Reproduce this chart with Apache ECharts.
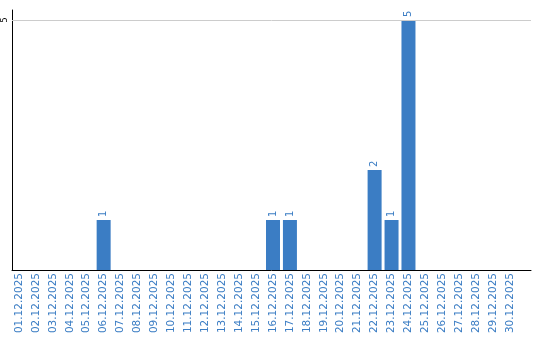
<!DOCTYPE html>
<html><head><meta charset="utf-8">
<script src="https://cdn.jsdelivr.net/npm/echarts@6/dist/echarts.min.js"></script>
<style>html,body{margin:0;padding:0;background:#fff}#c{width:540px;height:340px}</style>
</head><body><div id="c"></div>
<script>
const categories = ['01.12.2025','02.12.2025','03.12.2025','04.12.2025','05.12.2025','06.12.2025','07.12.2025','08.12.2025','09.12.2025','10.12.2025','11.12.2025','12.12.2025','13.12.2025','14.12.2025','15.12.2025','16.12.2025','17.12.2025','18.12.2025','19.12.2025','20.12.2025','21.12.2025','22.12.2025','23.12.2025','24.12.2025','25.12.2025','26.12.2025','27.12.2025','28.12.2025','29.12.2025','30.12.2025'];
const values = [0,0,0,0,0,1,0,0,0,0,0,0,0,0,0,1,1,0,0,0,0,2,1,5,0,0,0,0,0,0];
const yTicks = [5];

const BLUE = '#3b7dc4';
const chart = echarts.init(document.getElementById('c'), null, {renderer: 'canvas'});
const xMin = -7/17, xMax = -7/17 + 521/17;
chart.setOption({
  animation: false,
  grid: {left: 10, right: 9, top: 10, bottom: 70, containLabel: false},
  xAxis: {
    type: 'value', min: xMin, max: xMax,
    axisLine: {show: true, onZero: false, lineStyle: {color: '#000', width: 1}},
    axisTick: {show: false},
    splitLine: {show: false},
    axisLabel: {
      customValues: categories.map((c, i) => i),
      formatter: v => categories[Math.round(v)],
      rotate: 90, margin: 3, color: BLUE, fontSize: 10.5, fontFamily: 'DejaVu Sans'
    }
  },
  yAxis: {
    type: 'value', min: 0, max: 5.2,
    axisLine: {show: true, onZero: false, lineStyle: {color: '#000', width: 1}},
    axisTick: {show: false},
    splitLine: {show: false},
    axisLabel: {customValues: yTicks, rotate: 90, margin: 3, color: '#000', fontSize: 8.5, fontFamily: 'DejaVu Sans'}
  },
  series: [{
    type: 'bar',
    data: values.map((v, i) => [i, v]),
    barWidth: 14,
    itemStyle: {color: BLUE},
    label: {
      show: true, position: 'top', rotate: 90, distance: 3,
      align: 'left', verticalAlign: 'middle',
      color: BLUE, fontSize: 10, fontFamily: 'DejaVu Sans',
      formatter: p => p.value[1] ? String(p.value[1]) : ''
    },
    markLine: {
      silent: true, symbol: 'none', label: {show: false},
      lineStyle: {color: '#cccccc', width: 1, type: 'solid'},
      data: yTicks.map(t => ({yAxis: t}))
    }
  }]
});
</script></body></html>
